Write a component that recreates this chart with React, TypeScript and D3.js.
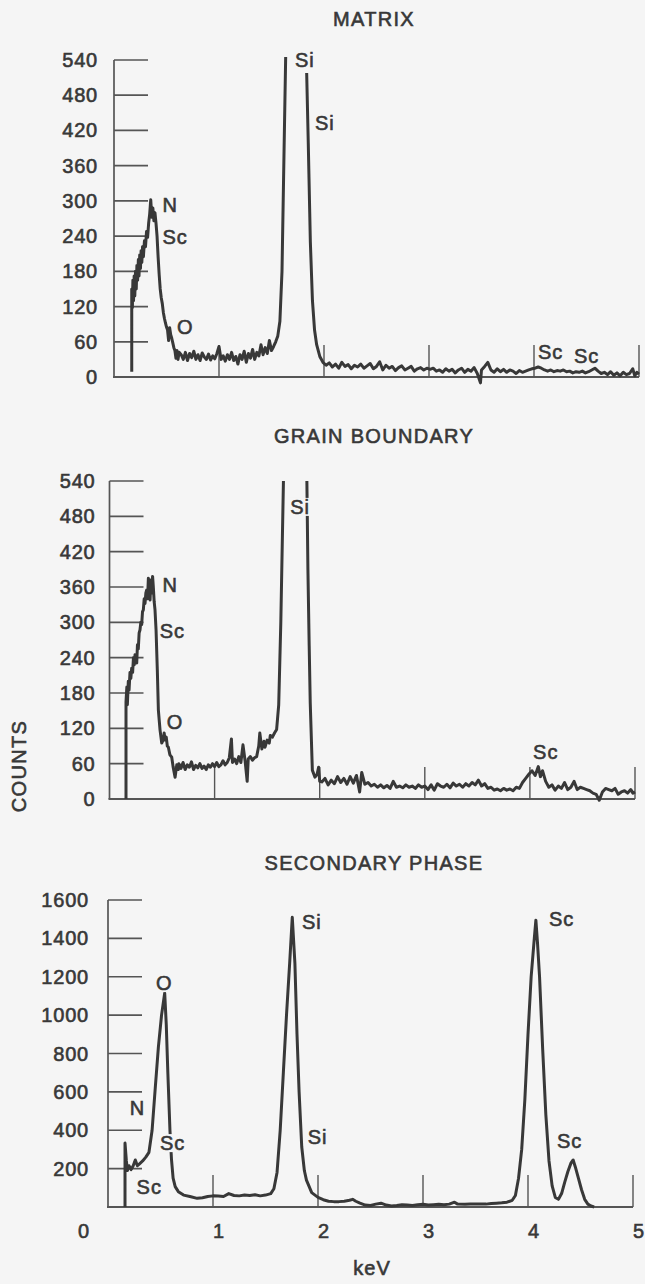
import React from 'react';
import * as d3 from 'd3';

const W = 645;
const H = 1284;
const BG = '#f5f5f5';
const INK = '#383838';
const AXIS = '#555555';
const FONT = 'Liberation Sans, Arial, Helvetica, sans-serif';

type Pt = [number, number | null];

// ---------- data (keV, counts) ----------
const countTicks540 = [60, 120, 180, 240, 300, 360, 420, 480, 540];
const countTicks1600 = [200, 400, 600, 800, 1000, 1200, 1400, 1600];
const keVTicks = [1, 2, 3, 4, 5];
const keVLabels = ['0', '1', '2', '3', '4', '5'];

const matrixSpectrum: Pt[] = [
  [0.169, 9], [0.169, 150], [0.175, 118], [0.18, 165], [0.186, 130], [0.192, 172], [0.198, 138],
  [0.205, 180], [0.212, 150], [0.218, 190], [0.225, 165], [0.232, 200], [0.238, 172], [0.245, 208],
  [0.252, 185], [0.258, 215], [0.265, 195], [0.272, 222], [0.28, 205], [0.29, 232], [0.3, 222],
  [0.31, 248], [0.32, 238], [0.33, 262], [0.34, 278], [0.35, 302], [0.36, 272], [0.37, 288],
  [0.38, 266], [0.39, 280], [0.4, 262], [0.41, 240], [0.42, 205], [0.43, 175], [0.44, 150],
  [0.45, 135], [0.46, 125], [0.47, 110], [0.48, 100], [0.49, 92], [0.5, 85], [0.51, 80],
  [0.52, 62], [0.53, 84], [0.54, 72], [0.55, 66], [0.56, 58], [0.57, 50], [0.58, 45], [0.59, 32],
  [0.6, 45], [0.61, 30], [0.62, 42], [0.64, 38], [0.66, 30], [0.68, 42], [0.7, 28], [0.72, 40],
  [0.74, 33], [0.76, 44], [0.78, 30], [0.8, 38], [0.82, 28], [0.84, 41], [0.86, 34], [0.88, 30],
  [0.9, 39], [0.92, 29], [0.94, 36], [0.96, 31], [0.98, 40], [1.0, 52], [1.02, 30], [1.04, 36],
  [1.06, 27], [1.08, 38], [1.1, 30], [1.12, 42], [1.14, 28], [1.16, 35], [1.18, 22], [1.2, 38],
  [1.22, 30], [1.24, 44], [1.26, 25], [1.28, 40], [1.3, 32], [1.32, 47], [1.34, 30], [1.36, 42],
  [1.38, 36], [1.4, 55], [1.42, 38], [1.44, 50], [1.46, 40], [1.48, 62], [1.5, 45], [1.52, 52],
  [1.54, 60], [1.56, 70], [1.58, 95], [1.6, 180], [1.62, 390], [1.635, 545], [1.7, null],
  [1.835, 518], [1.85, 400], [1.87, 230], [1.89, 130], [1.91, 80], [1.93, 55], [1.96, 35],
  [1.99, 25], [2.02, 20], [2.05, 24], [2.08, 17], [2.11, 22], [2.14, 15], [2.17, 25], [2.2, 18],
  [2.23, 21], [2.26, 14], [2.29, 20], [2.32, 17], [2.35, 22], [2.38, 15], [2.41, 19], [2.44, 23],
  [2.47, 14], [2.5, 18], [2.53, 26], [2.56, 12], [2.59, 20], [2.62, 15], [2.65, 18], [2.68, 11],
  [2.71, 16], [2.74, 19], [2.77, 12], [2.8, 15], [2.83, 18], [2.86, 10], [2.89, 14], [2.92, 16],
  [2.95, 12], [2.98, 15], [3.01, 13], [3.04, 15], [3.07, 10], [3.1, 12], [3.13, 8], [3.16, 14],
  [3.19, 10], [3.22, 13], [3.25, 7], [3.28, 12], [3.31, 15], [3.34, 8], [3.37, 13], [3.4, 10],
  [3.43, 16], [3.46, 6], [3.49, -10], [3.5, 12], [3.53, 18], [3.56, 25], [3.59, 12], [3.62, 8],
  [3.65, 14], [3.68, 9], [3.71, 13], [3.74, 8], [3.77, 12], [3.8, 10], [3.83, 6], [3.86, 11],
  [3.89, 8], [3.92, 10], [3.95, 12], [3.98, 14], [4.01, 15], [4.04, 17], [4.07, 15], [4.1, 12],
  [4.13, 10], [4.16, 12], [4.19, 9], [4.22, 11], [4.25, 10], [4.28, 12], [4.31, 9], [4.34, 10],
  [4.37, 7], [4.4, 9], [4.43, 8], [4.46, 10], [4.49, 7], [4.52, 9], [4.55, 12], [4.58, 15],
  [4.61, 10], [4.64, 6], [4.67, 8], [4.7, 4], [4.73, 9], [4.76, 3], [4.79, 7], [4.82, 2],
  [4.85, 8], [4.88, 4], [4.91, 6], [4.94, 14], [4.96, 2], [4.98, 8], [5.0, 5],
];

const boundarySpectrum: Pt[] = [
  [0.157, 0], [0.157, 165], [0.165, 190], [0.17, 160], [0.179, 200], [0.186, 185], [0.195, 215],
  [0.203, 205], [0.211, 222], [0.22, 215], [0.228, 240], [0.236, 228], [0.243, 245], [0.25, 232],
  [0.259, 231], [0.266, 262], [0.274, 255], [0.282, 282], [0.29, 287], [0.298, 300], [0.306, 296],
  [0.314, 318], [0.322, 321], [0.33, 340], [0.338, 332], [0.346, 350], [0.354, 355], [0.362, 340],
  [0.37, 375], [0.378, 348], [0.386, 338], [0.394, 372], [0.402, 350], [0.41, 378], [0.417, 360],
  [0.425, 335], [0.433, 321], [0.443, 287], [0.455, 219], [0.465, 151], [0.481, 117], [0.497, 95],
  [0.51, 100], [0.52, 112], [0.529, 100], [0.54, 105], [0.55, 90], [0.56, 88], [0.575, 75],
  [0.592, 71], [0.605, 55], [0.624, 37], [0.64, 58], [0.655, 50], [0.66, 60], [0.68, 52],
  [0.7, 62], [0.72, 50], [0.74, 58], [0.76, 54], [0.78, 63], [0.8, 50], [0.82, 57], [0.84, 53],
  [0.86, 60], [0.88, 52], [0.9, 56], [0.92, 50], [0.94, 58], [0.96, 54], [0.98, 60], [1.0, 55],
  [1.02, 62], [1.04, 55], [1.06, 58], [1.08, 65], [1.1, 58], [1.12, 62], [1.14, 70], [1.16, 102],
  [1.17, 62], [1.19, 68], [1.21, 60], [1.23, 72], [1.25, 62], [1.27, 92], [1.29, 65], [1.31, 30],
  [1.32, 68], [1.34, 72], [1.36, 66], [1.38, 70], [1.4, 72], [1.42, 90], [1.43, 112], [1.45, 85],
  [1.47, 98], [1.48, 88], [1.5, 100], [1.52, 95], [1.53, 108], [1.55, 105], [1.57, 112],
  [1.59, 118], [1.61, 160], [1.63, 300], [1.645, 445], [1.655, 540], [1.75, null],
  [1.878, 540], [1.888, 389], [1.9, 260], [1.91, 163], [1.93, 49], [1.955, 37], [1.975, 42],
  [1.99, 54], [2.0, 30], [2.02, 29], [2.05, 35], [2.08, 24], [2.11, 32], [2.14, 26], [2.17, 38],
  [2.2, 28], [2.23, 35], [2.26, 25], [2.29, 38], [2.32, 27], [2.35, 40], [2.38, 12], [2.4, 45],
  [2.43, 25], [2.46, 28], [2.49, 22], [2.52, 25], [2.55, 20], [2.58, 24], [2.61, 19], [2.64, 23],
  [2.67, 18], [2.7, 30], [2.73, 20], [2.76, 22], [2.79, 19], [2.82, 24], [2.85, 20], [2.88, 22],
  [2.91, 18], [2.94, 24], [2.97, 20], [3.0, 22], [3.03, 16], [3.06, 24], [3.09, 15], [3.12, 26],
  [3.15, 22], [3.18, 20], [3.21, 25], [3.24, 19], [3.27, 27], [3.3, 22], [3.33, 25], [3.36, 20],
  [3.39, 26], [3.42, 22], [3.45, 28], [3.48, 24], [3.51, 32], [3.54, 22], [3.57, 26], [3.6, 18],
  [3.63, 20], [3.66, 15], [3.69, 17], [3.72, 14], [3.75, 18], [3.78, 15], [3.81, 17], [3.84, 14],
  [3.87, 20], [3.9, 18], [3.93, 28], [3.96, 35], [3.99, 42], [4.02, 48], [4.05, 40], [4.08, 55],
  [4.1, 38], [4.12, 48], [4.15, 30], [4.18, 20], [4.21, 24], [4.24, 15], [4.27, 22], [4.3, 18],
  [4.33, 28], [4.36, 16], [4.39, 20], [4.42, 30], [4.45, 16], [4.48, 20], [4.51, 18], [4.54, 16],
  [4.57, 14], [4.6, 10], [4.63, 8], [4.66, -2], [4.69, 12], [4.72, 18], [4.75, 16], [4.78, 14],
  [4.81, 18], [4.84, 8], [4.87, 12], [4.9, 14], [4.93, 10], [4.96, 16], [4.98, 10], [5.0, 12],
];

const secondarySpectrum: Pt[] = [
  [0.162, 0], [0.162, 333], [0.175, 240], [0.185, 190], [0.2, 215], [0.22, 195], [0.24, 215],
  [0.26, 245], [0.28, 215], [0.3, 225], [0.33, 240], [0.36, 260], [0.39, 285], [0.42, 400],
  [0.45, 620], [0.48, 835], [0.51, 1000], [0.54, 1115], [0.555, 950], [0.57, 700], [0.59, 400],
  [0.605, 245], [0.62, 150], [0.64, 106], [0.67, 80], [0.72, 62], [0.78, 55], [0.85, 45],
  [0.9, 48], [0.95, 55], [1.0, 58], [1.05, 57], [1.1, 55], [1.15, 70], [1.2, 60], [1.25, 58],
  [1.3, 62], [1.35, 60], [1.4, 64], [1.45, 58], [1.5, 62], [1.55, 70], [1.58, 95], [1.61, 180],
  [1.64, 400], [1.67, 700], [1.7, 1000], [1.73, 1270], [1.755, 1510], [1.78, 1270], [1.8, 900],
  [1.82, 600], [1.845, 314], [1.87, 190], [1.89, 140], [1.94, 75], [2.0, 50], [2.05, 38],
  [2.1, 30], [2.15, 28], [2.2, 28], [2.25, 30], [2.3, 35], [2.33, 40], [2.36, 30], [2.4, 20],
  [2.45, 10], [2.5, 8], [2.55, 15], [2.6, 20], [2.65, 10], [2.7, 5], [2.75, 8], [2.8, 12],
  [2.85, 10], [2.9, 8], [2.95, 12], [3.0, 14], [3.05, 10], [3.1, 12], [3.15, 14], [3.2, 12],
  [3.25, 15], [3.3, 25], [3.33, 15], [3.4, 14], [3.45, 16], [3.5, 15], [3.55, 16], [3.6, 15],
  [3.65, 18], [3.7, 20], [3.75, 22], [3.8, 25], [3.85, 35], [3.88, 60], [3.91, 150], [3.94, 300],
  [3.97, 560], [4.0, 900], [4.03, 1200], [4.06, 1400], [4.075, 1495], [4.09, 1380], [4.11, 1200],
  [4.14, 820], [4.17, 480], [4.2, 240], [4.23, 110], [4.26, 50], [4.29, 40], [4.32, 70],
  [4.35, 130], [4.38, 185], [4.41, 230], [4.43, 245], [4.45, 210], [4.48, 150], [4.51, 90],
  [4.54, 40], [4.57, 15], [4.6, 5], [4.63, 0],
];

// peak labels: [text, keV at left edge, counts at text centre]
type Lbl = [string, number, number];
const matrixPeaks: Lbl[] = [
  ['N', 0.462, 293], ['Sc', 0.462, 238], ['O', 0.6, 85], ['Si', 1.724, 540],
  ['Si', 1.914, 433], ['Sc', 4.038, 43], ['Sc', 4.381, 36],
];
const boundaryPeaks: Lbl[] = [
  ['N', 0.505, 363], ['Sc', 0.477, 285], ['O', 0.544, 131], ['Si', 1.719, 496], ['Sc', 4.03, 80],
];
const secondaryPeaks: Lbl[] = [
  ['Si', 1.848, 1487], ['Sc', 4.2, 1501], ['O', 0.457, 1167], ['N', 0.206, 516],
  ['Sc', 0.495, 333], ['Sc', 0.272, 104], ['Si', 1.902, 365], ['Sc', 4.276, 344],
];

const panelTitles = ['MATRIX', 'GRAIN BOUNDARY', 'SECONDARY PHASE'];

// ---------- layout ----------
interface PanelCfg {
  title: string;
  titleY: number;
  xRange: [number, number];
  yRange: [number, number];
  yMax: number;
  ticks: number[];
  showZero: boolean;
  labelGap: number;
  data: Pt[];
  peaks: Lbl[];
}

const panels: PanelCfg[] = [
  { title: panelTitles[0], titleY: 19, xRange: [114, 639], yRange: [377, 60], yMax: 540,
    ticks: countTicks540, showZero: true, labelGap: 16, data: matrixSpectrum, peaks: matrixPeaks },
  { title: panelTitles[1], titleY: 436, xRange: [109.5, 635], yRange: [799, 481], yMax: 540,
    ticks: countTicks540, showZero: true, labelGap: 14, data: boundarySpectrum, peaks: boundaryPeaks },
  { title: panelTitles[2], titleY: 863, xRange: [108, 633], yRange: [1207, 900], yMax: 1600,
    ticks: countTicks1600, showZero: false, labelGap: 19, data: secondarySpectrum, peaks: secondaryPeaks },
];

const charW: Record<string, number> = { S: 0.667, i: 0.222, c: 0.5, N: 0.722, O: 0.778 };
const TXT = { fill: INK, stroke: INK, strokeWidth: 0.6 };

function Panel({ p }: { p: PanelCfg }) {
  const x = d3.scaleLinear().domain([0, 5]).range(p.xRange);
  const y = d3.scaleLinear().domain([0, p.yMax]).range(p.yRange);
  const line = d3
    .line<Pt>()
    .defined((d) => d[1] !== null)
    .x((d) => x(d[0]))
    .y((d) => y(d[1] as number));
  const x0 = x(0);
  const yb = y(0);
  const fs = 20;
  return (
    <g>
      <text x={374} y={p.titleY} textAnchor="middle" dominantBaseline="central" fontSize={fs}
        letterSpacing={1.3} {...TXT}>{p.title}</text>
      {/* axes */}
      <line x1={x0} x2={x0} y1={yb} y2={y(p.yMax)} stroke={AXIS} strokeWidth={1.7} />
      <line x1={x0 - 1} x2={x(5)} y1={yb} y2={yb} stroke={AXIS} strokeWidth={2} />
      {p.ticks.map((t) => (
        <line key={'yt' + t} x1={x0} x2={x0 + 34} y1={y(t)} y2={y(t)} stroke={AXIS} strokeWidth={1.7} />
      ))}
      {keVTicks.map((k) => (
        <line key={'xt' + k} x1={x(k)} x2={x(k)} y1={yb} y2={yb - 32} stroke={AXIS} strokeWidth={1.4} />
      ))}
      {(p.showZero ? [0, ...p.ticks] : p.ticks).map((t) => (
        <text key={'yl' + t} x={x0 - p.labelGap} y={y(t)} textAnchor="end" dominantBaseline="central"
          fontSize={fs} letterSpacing={0.8} {...TXT}>{t}</text>
      ))}
      {/* spectrum */}
      <path d={line(p.data) || ''} fill="none" stroke={INK} strokeWidth={3} strokeLinejoin="round" />
      {/* peak labels with knock-out */}
      {p.peaks.map(([s, k, c], i) => {
        const w = s.split('').reduce((a, ch) => a + (charW[ch] || 0.6), 0) * fs + s.length;
        return (
          <g key={'pk' + i}>
            <rect x={x(k) - 1} y={y(c) - 9} width={w + 2} height={18} fill={BG} />
            <text x={x(k)} y={y(c)} dominantBaseline="central" fontSize={fs} letterSpacing={1}
              {...TXT}>{s}</text>
          </g>
        );
      })}
    </g>
  );
}

export default function App() {
  const last = panels[2];
  const xl = d3.scaleLinear().domain([0, 5]).range([last.xRange[0] + 5.5, last.xRange[1] + 5.5]);
  return (
    <svg width={W} height={H} style={{ position: 'absolute', left: 0, top: 0 }} fontFamily={FONT}>
      <rect width={W} height={H} fill={BG} />
      {panels.map((p, i) => (
        <Panel key={i} p={p} />
      ))}
      {keVLabels.map((s, i) => (
        <text key={'kl' + i} x={i === 0 ? last.xRange[0] - 19 : xl(i)} y={1231}
          textAnchor={i === 0 ? 'end' : 'middle'} dominantBaseline="central" fontSize={20}
          {...TXT}>{s}</text>
      ))}
      <text x={372} y={1268} textAnchor="middle" dominantBaseline="central" fontSize={20}
        letterSpacing={1} {...TXT}>keV</text>
      <text transform="translate(19,766) rotate(-90)" textAnchor="middle" dominantBaseline="central"
        fontSize={20} letterSpacing={1.3} {...TXT}>COUNTS</text>
    </svg>
  );
}
